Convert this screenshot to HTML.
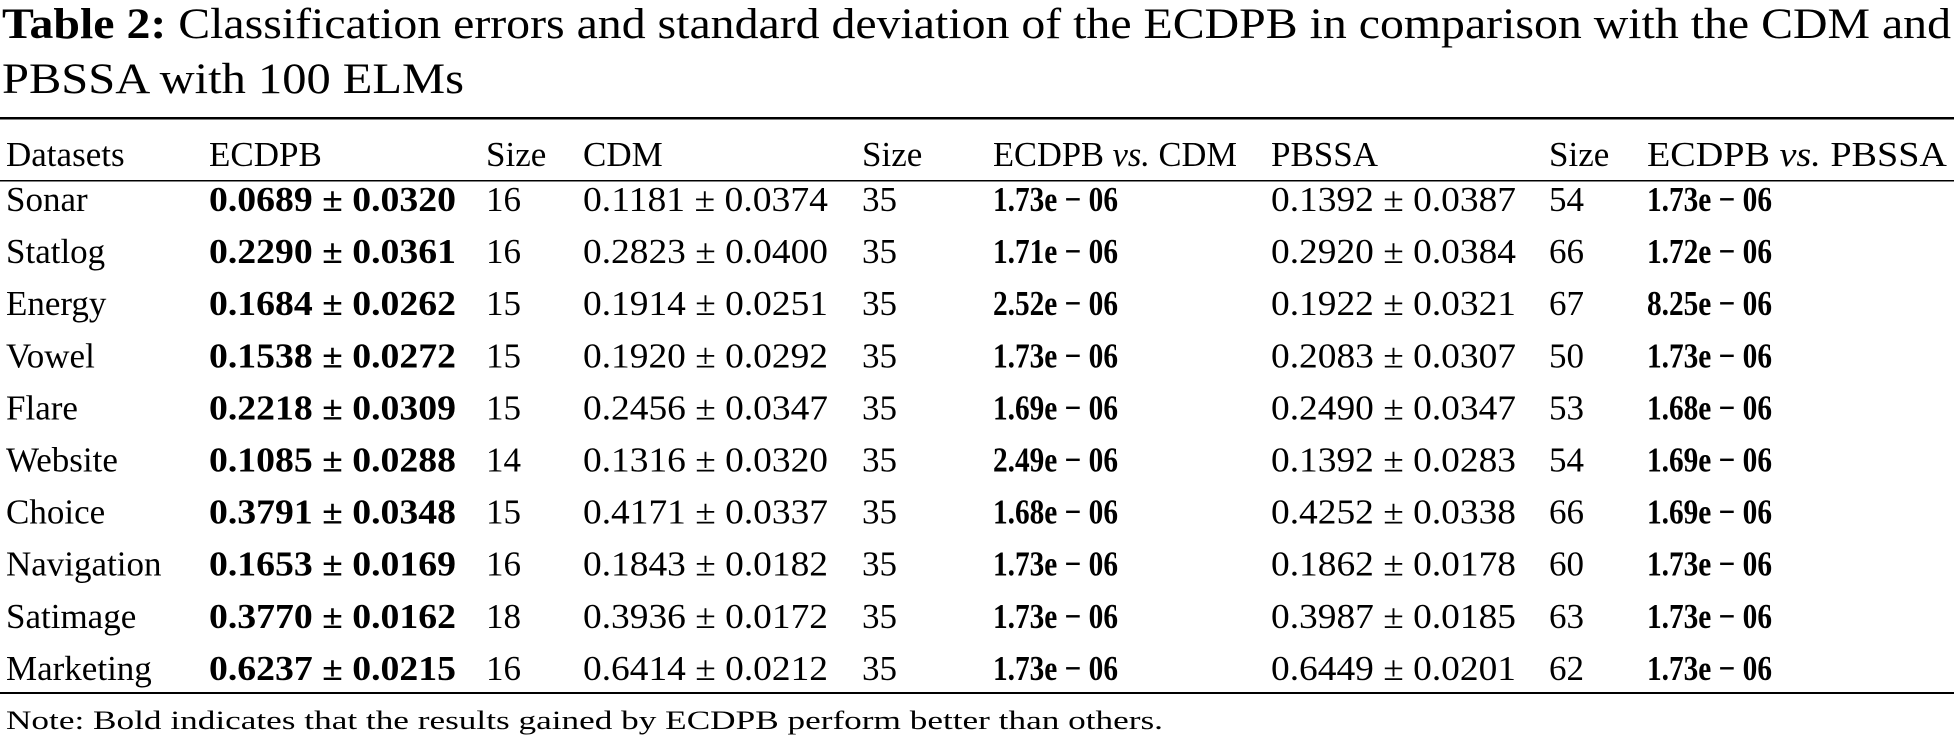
<!DOCTYPE html>
<html><head><meta charset="utf-8"><style>
html,body{margin:0;padding:0;background:#fff;}
svg{display:block;font-family:"Liberation Serif",serif;}
</style></head><body>
<svg id="tbl" width="1954" height="742" viewBox="0 0 1954 742" xmlns="http://www.w3.org/2000/svg">
<text x="2" y="38" font-size="43" textLength="1949" lengthAdjust="spacingAndGlyphs"><tspan font-weight="bold">Table 2:</tspan> Classification errors and standard deviation of the ECDPB in comparison with the CDM and</text>
<text x="2" y="93" font-size="43" textLength="462" lengthAdjust="spacingAndGlyphs">PBSSA with 100 ELMs</text>
<rect x="0" y="117" width="1954" height="2.5" fill="#000"/>
<rect x="0" y="180" width="1954" height="1.5" fill="#000"/>
<rect x="0" y="692" width="1954" height="2" fill="#000"/>
<text x="6" y="729" font-size="26" textLength="1157" lengthAdjust="spacingAndGlyphs">Note: Bold indicates that the results gained by ECDPB perform better than others.</text>
</svg>
<script>
const datasets=["Sonar","Statlog","Energy","Vowel","Flare","Website","Choice","Navigation","Satimage","Marketing"];
const ecdpb=["0.0689 ± 0.0320","0.2290 ± 0.0361","0.1684 ± 0.0262","0.1538 ± 0.0272","0.2218 ± 0.0309","0.1085 ± 0.0288","0.3791 ± 0.0348","0.1653 ± 0.0169","0.3770 ± 0.0162","0.6237 ± 0.0215"];
const ecdpbSize=["16","16","15","15","15","14","15","16","18","16"];
const cdm=["0.1181 ± 0.0374","0.2823 ± 0.0400","0.1914 ± 0.0251","0.1920 ± 0.0292","0.2456 ± 0.0347","0.1316 ± 0.0320","0.4171 ± 0.0337","0.1843 ± 0.0182","0.3936 ± 0.0172","0.6414 ± 0.0212"];
const cdmSize=["35","35","35","35","35","35","35","35","35","35"];
const pCdm=["1.73e − 06","1.71e − 06","2.52e − 06","1.73e − 06","1.69e − 06","2.49e − 06","1.68e − 06","1.73e − 06","1.73e − 06","1.73e − 06"];
const pbssa=["0.1392 ± 0.0387","0.2920 ± 0.0384","0.1922 ± 0.0321","0.2083 ± 0.0307","0.2490 ± 0.0347","0.1392 ± 0.0283","0.4252 ± 0.0338","0.1862 ± 0.0178","0.3987 ± 0.0185","0.6449 ± 0.0201"];
const pbssaSize=["54","66","67","50","53","54","66","60","63","62"];
const pPbssa=["1.73e − 06","1.72e − 06","8.25e − 06","1.73e − 06","1.68e − 06","1.69e − 06","1.69e − 06","1.73e − 06","1.73e − 06","1.73e − 06"];
const headers=["Datasets","ECDPB","Size","CDM","Size","ECDPB vs. CDM","PBSSA","Size","ECDPB vs. PBSSA"];

const svg=document.getElementById('tbl');
const NS="http://www.w3.org/2000/svg";
const colX=[6,209,486,583,862,993,1271,1549,1647];
const colW=[null,247,null,245,null,125,245,null,125];
const colBold=[false,true,false,false,false,true,false,false,true];
const colNames=["dataset-name","ecdpb-value","ecdpb-size","cdm-value","cdm-size","p-ecdpb-cdm","pbssa-value","pbssa-size","p-ecdpb-pbssa"];
function txt(x,y,s,bold,w,name){
  const t=document.createElementNS(NS,'text');
  t.setAttribute('x',x);t.setAttribute('y',y);t.setAttribute('font-size','35');
  if(bold)t.setAttribute('font-weight','bold');
  if(w){t.setAttribute('textLength',w);t.setAttribute('lengthAdjust','spacingAndGlyphs');}
  t.textContent=s;
  
  
  svg.appendChild(t);return t;
}
headers.forEach((h,i)=>{
  let w=null; if(i===5)w=244; if(i===8)w=300;
  const t=txt(colX[i],166,'',false,w,'header-'+colNames[i]);
  if(h.indexOf(' vs. ')>=0){
    const parts=h.split(' vs. ');
    t.appendChild(document.createTextNode(parts[0]+' '));
    const it=document.createElementNS(NS,'tspan');it.setAttribute('font-style','italic');it.textContent='vs.';
    t.appendChild(it);
    t.appendChild(document.createTextNode(' '+parts[1]));
  } else t.textContent=h;
});
const cols=[datasets,ecdpb,ecdpbSize,cdm,cdmSize,pCdm,pbssa,pbssaSize,pPbssa];
datasets.forEach((d,r)=>{
  const y=211+r*52.1;
  cols.forEach((arr,c)=>{
    txt(colX[c],y,arr[r],colBold[c],colW[c],colNames[c]+'-'+d.toLowerCase());
  });
});
</script>
</body></html>
